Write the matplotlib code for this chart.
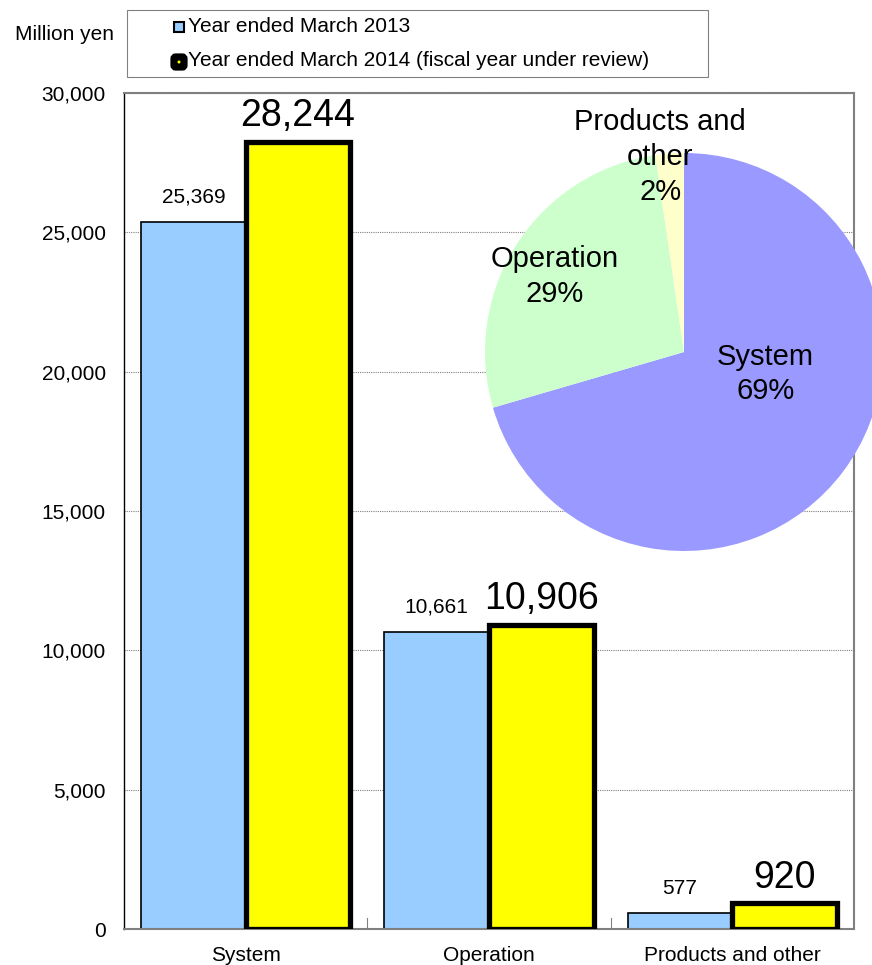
import matplotlib
matplotlib.use("Agg")
import matplotlib.pyplot as plt
import numpy as np
from matplotlib.patches import Rectangle, FancyBboxPatch

plt.rcParams['font.family'] = ['Liberation Sans', 'DejaVu Sans']

categories = ["System", "Operation", "Products and other"]
fy2013 = [25369, 10661, 577]
fy2014 = [28244, 10906, 920]
series_names = ["Year ended March 2013", "Year ended March 2014 (fiscal year under review)"]
yticks = [0, 5000, 10000, 15000, 20000, 25000, 30000]
pie_labels = ["System\n69%", "Operation\n29%", "Products and\nother\n2%"]

W, H = 872, 965
fig = plt.figure(figsize=(W / 100, H / 100), dpi=100)
ax = fig.add_axes([0.1422, 0.0373, 0.8372, 0.8663])

x = np.arange(len(categories))
w = 0.43
ax.bar(x - w/2, fy2013, w, color="#99CCFF", edgecolor="black", linewidth=1.2, zorder=2)
ax.bar(x + w/2, fy2014, w, color="#FFFF00", edgecolor="black", linewidth=3.8, zorder=3)

for xi, v in zip(x, fy2013):
    ax.text(xi - w/2, v + 550, f"{v:,}", ha="center", va="bottom", fontsize=15)
for xi, v in zip(x, fy2014):
    ax.text(xi + w/2, v + 280, f"{v:,}", ha="center", va="bottom", fontsize=27)

ax.set_xlim(-0.5, len(categories) - 0.5)
ax.set_ylim(0, 30000)
ax.set_yticks(yticks)
ax.set_yticklabels([f"{t:,}" for t in yticks], fontsize=15)
ax.tick_params(axis="y", length=0, pad=13)
ax.set_xticks(x)
ax.set_xticklabels(categories, fontsize=15)
ax.tick_params(axis="x", length=0, pad=12)
for b in [0.5, 1.5]:
    ax.plot([b, b], [0, 400], color="#808080", lw=0.8, zorder=1)
ax.yaxis.grid(True, linestyle=(0, (1, 1)), color="#808080", linewidth=0.8)
ax.set_axisbelow(True)
for s in ["top", "right", "bottom"]:
    ax.spines[s].set_color("#808080")
    ax.spines[s].set_linewidth(1.5)
ax.spines["left"].set_color("black")
ax.spines["left"].set_linewidth(1.0)

fig.text(15 / W, 1 - 35 / H, "Million yen", fontsize=15, ha="left", va="center")

# legend box (drawn manually to match the reference layout)
fig.patches.append(Rectangle((127 / W, 1 - 77 / H), (708 - 127) / W, (77 - 10) / H,
                             transform=fig.transFigure, facecolor="white",
                             edgecolor="#808080", linewidth=0.8))
fig.patches.append(Rectangle((174 / W, 1 - 32 / H), 10 / W, 10 / H,
                             transform=fig.transFigure, facecolor="#99CCFF",
                             edgecolor="black", linewidth=1.5))
fig.patches.append(FancyBboxPatch((174 / W, 1 - 67 / H), 10 / W, 10 / H,
                                  boxstyle="round,pad=0,rounding_size=0.002",
                                  transform=fig.transFigure, facecolor="#FFFF00",
                                  edgecolor="black", linewidth=5.2))
fig.text(188 / W, 1 - 27 / H, series_names[0], fontsize=15, ha="left", va="center")
fig.text(188 / W, 1 - 61 / H, series_names[1], fontsize=15, ha="left", va="center")

pax = fig.add_axes([485 / W, 1 - 551 / H, 398 / W, 398 / H])
pax.pie(fy2014, colors=["#9999FF", "#CCFFCC", "#FFFFCC"],
        startangle=90, counterclock=False)
pax.set_aspect("equal")
pax.set_xlim(-1, 1)
pax.set_ylim(-1, 1)
label_pos = [(0.41, -0.11), (-0.65, 0.38), (-0.12, 0.98)]
for (lx, ly), t in zip(label_pos, pie_labels):
    pax.text(lx, ly, t, ha="center", va="center", fontsize=21, linespacing=1.3)
pax.axis("off")

fig.savefig("out.png", dpi=100)
